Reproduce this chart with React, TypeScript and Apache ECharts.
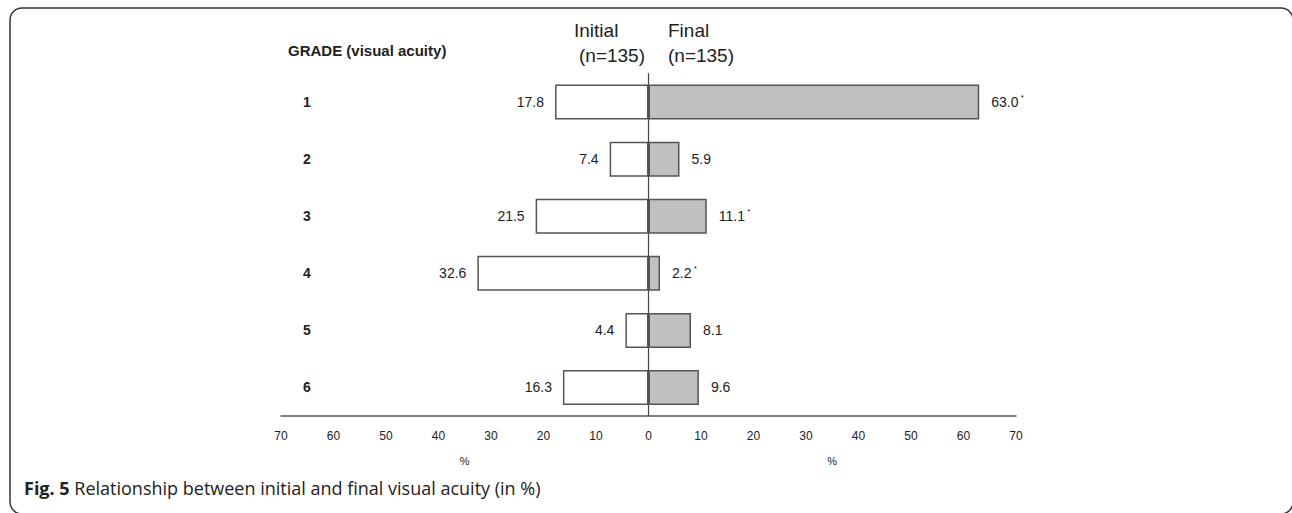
import React, { useEffect, useRef } from "react";
import * as echarts from "echarts";

const grades = ["1", "2", "3", "4", "5", "6"];
const initialPct = [17.8, 7.4, 21.5, 32.6, 4.4, 16.3];
const finalPct = [63.0, 5.9, 11.1, 2.2, 8.1, 9.6];
const finalSignificant = [true, false, true, true, false, false];
const axisMax = 70;
const axisInterval = 10;

const W = 1292;
const H = 513;
const GRID_LEFT = 281;
const GRID_RIGHT = W - 1016;
const GRID_TOP = 73.5;
const GRID_BOTTOM = H - 416;

export default function App() {
  const ref = useRef<HTMLDivElement>(null);
  useEffect(() => {
    document.body.style.margin = "0";
    const chart = echarts.init(ref.current!, null, { renderer: "svg" });
    const plotW = W - GRID_LEFT - GRID_RIGHT;
    const xOf = (v: number) => GRID_LEFT + ((v + axisMax) / (2 * axisMax)) * plotW;
    const labelFont = "Liberation Sans, Arial, sans-serif";
    chart.setOption({
      animation: false,
      backgroundColor: "#ffffff",
      grid: { left: GRID_LEFT, right: GRID_RIGHT, top: GRID_TOP, bottom: GRID_BOTTOM, containLabel: false },
      xAxis: {
        type: "value",
        min: -axisMax,
        max: axisMax,
        interval: axisInterval,
        axisLine: { show: true, onZero: false, lineStyle: { color: "#555", width: 1.5 } },
        axisTick: { show: false },
        splitLine: { show: false },
        axisLabel: {
          margin: 14,
          color: "#222",
          fontSize: 12,
          fontFamily: labelFont,
          formatter: (v: number) => String(Math.abs(v)),
        },
      },
      yAxis: [
        {
          type: "category",
          data: grades,
          inverse: true,
          position: "left",
          axisLine: { show: false, onZero: false },
          axisTick: { show: false },
          splitLine: { show: false },
          axisLabel: {
            inside: true,
            margin: 26,
            align: "center",
            color: "#222",
            fontSize: 14,
            fontWeight: "bold",
            fontFamily: labelFont,
          },
        },
        {
          type: "category",
          data: grades,
          inverse: true,
          axisLine: { show: true, onZero: true, lineStyle: { color: "#444", width: 1.2 } },
          axisTick: { show: false },
          axisLabel: { show: false },
          splitLine: { show: false },
        },
      ],
      series: [
        {
          name: "Initial",
          type: "bar",
          yAxisIndex: 0,
          barWidth: 35,
          barGap: "-100%",
          data: initialPct.map((v) => -v),
          itemStyle: { color: "#ffffff", borderColor: "#555", borderWidth: 1.5 },
          label: {
            show: true,
            position: "left",
            distance: 11,
            color: "#222",
            fontSize: 14,
            fontFamily: labelFont,
            formatter: (p: any) => Math.abs(p.value).toFixed(1),
          },
          z: 3,
        },
        {
          name: "Final",
          type: "bar",
          yAxisIndex: 0,
          barWidth: 35,
          barGap: "-100%",
          data: finalPct,
          itemStyle: { color: "#c0c0c0", borderColor: "#555", borderWidth: 1.5 },
          label: {
            show: true,
            position: "right",
            distance: 12,
            color: "#222",
            fontSize: 14,
            fontFamily: labelFont,
            formatter: (p: any) =>
              "{v|" + Number(p.value).toFixed(1) + "}" + (finalSignificant[p.dataIndex] ? "{s| *}" : ""),
            rich: {
              v: { fontSize: 14, color: "#222", fontFamily: labelFont },
              s: { fontSize: 8, color: "#222", fontFamily: labelFont, padding: [0, 0, 10, 0] },
            },
          },
          z: 3,
        },
      ],
      graphic: [
        {
          type: "rect",
          shape: { x: 10, y: 8, width: 1283, height: 506, r: 12 },
          style: { fill: "none", stroke: "#333", lineWidth: 1.5 },
          silent: true,
          z: 0,
        },
        {
          type: "text",
          style: { text: "GRADE (visual acuity)", x: 288, y: 50, fill: "#222", font: "bold 15px " + labelFont, textVerticalAlign: "middle" },
        },
        {
          type: "text",
          style: { text: "Initial", x: 574, y: 30, fill: "#222", font: "19px " + labelFont, textVerticalAlign: "middle" },
        },
        {
          type: "text",
          style: { text: "(n=135)", x: 579, y: 55, fill: "#222", font: "19px " + labelFont, textVerticalAlign: "middle" },
        },
        {
          type: "text",
          style: { text: "Final", x: 668, y: 30, fill: "#222", font: "19px " + labelFont, textVerticalAlign: "middle" },
        },
        {
          type: "text",
          style: { text: "(n=135)", x: 668, y: 55, fill: "#222", font: "19px " + labelFont, textVerticalAlign: "middle" },
        },
        {
          type: "text",
          style: { text: "%", x: xOf(-35), y: 461, fill: "#222", font: "11px " + labelFont, textAlign: "center", textVerticalAlign: "middle" },
        },
        {
          type: "text",
          style: { text: "%", x: xOf(35), y: 461, fill: "#222", font: "11px " + labelFont, textAlign: "center", textVerticalAlign: "middle" },
        },
        {
          type: "text",
          style: {
            text: "{b|Fig. 5} Relationship between initial and final visual acuity (in %)",
            x: 24,
            y: 488,
            textVerticalAlign: "middle",
            font: "18px 'Open Sans', sans-serif",
            fill: "#222",
            rich: {
              b: { fontWeight: "bold", fontSize: 18, fontFamily: "Open Sans", fill: "#222" },
            },
          },
        },
      ],
    });
    return () => chart.dispose();
  }, []);
  return <div ref={ref} style={{ width: W, height: H }} />;
}
